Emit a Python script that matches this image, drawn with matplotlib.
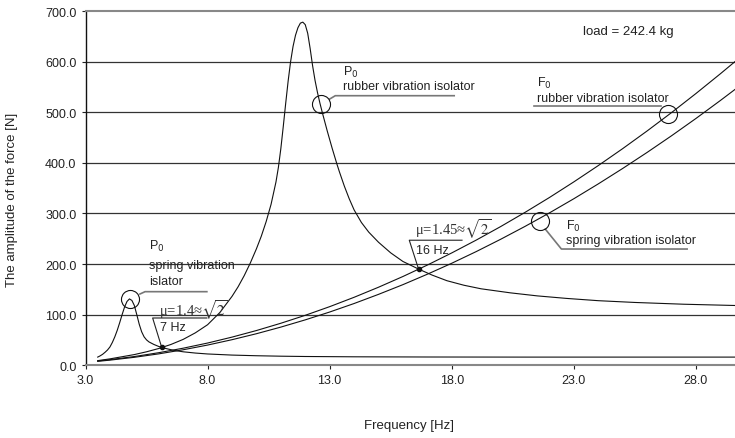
import matplotlib
matplotlib.use("Agg")
import matplotlib.pyplot as plt

plt.rcParams['font.family'] = ['Liberation Sans', 'DejaVu Sans']
plt.rcParams['font.size'] = 9

# F0 curves (excitation force amplitude)
freq_f0 = [3.5, 4, 5, 6, 7, 8, 9, 10, 11, 12, 13, 14, 15, 16, 17, 18, 19, 20,
           21, 22, 23, 24, 25, 26, 27, 28, 29, 29.6]
f0_rubber = [8.4, 11.0, 17.1, 24.7, 33.6, 43.8, 55.5, 68.5, 82.9, 98.6, 115.7,
             134.2, 154.1, 175.3, 197.9, 221.9, 247.2, 273.9, 302.0, 331.4,
             362.3, 394.5, 428.0, 462.9, 499.2, 536.9, 575.9, 600.0]
f0_spring = [7.6, 10.0, 15.6, 22.4, 30.5, 39.8, 50.4, 62.2, 75.3, 89.6, 105.1,
             121.9, 140.0, 159.2, 179.8, 201.5, 224.5, 248.8, 274.3, 301.0,
             329.0, 358.3, 388.8, 420.5, 453.4, 487.6, 523.1, 545.0]

# P0 rubber vibration isolator (transmitted force)
freq_p0_rubber = [3.5, 4, 5, 5.5, 6, 6.5, 7, 7.5, 8, 8.5, 9, 9.25, 9.5, 9.75,
                  10, 10.2, 10.4, 10.6, 10.8, 10.9, 11.0, 11.1, 11.2, 11.3,
                  11.4, 11.5, 11.6, 11.7, 11.8, 11.9, 12.0, 12.1, 12.2, 12.3,
                  12.4, 12.5, 12.6, 12.7, 12.8, 12.9, 13.0, 13.1, 13.2, 13.3,
                  13.4, 13.6, 13.8, 14.0, 14.3, 14.6, 15.0, 15.5, 16.0, 16.64,
                  17.2, 17.8, 18.5, 19.2, 20.4, 21.5, 22.7, 24, 25.5, 27.5, 29.6]
p0_rubber = [9, 12.5, 21, 26.5, 33, 41, 51, 64, 80, 104, 136, 155, 177, 202,
             230, 255, 284, 318, 362, 391, 428, 472, 518, 562,
             600, 630, 652, 667, 676, 678, 673, 656, 626, 592,
             563, 539, 518, 499, 481, 463, 446, 429, 413, 397,
             382, 354, 329, 307, 282, 263, 243, 222, 205, 190,
             178, 167, 158, 151, 143, 137, 132, 127.5, 124, 120.5, 118]

# P0 spring vibration isolator
freq_p0_spring = [3.5, 3.6, 3.7, 3.8, 3.9, 4.0, 4.1, 4.2, 4.3, 4.4, 4.5, 4.6,
                  4.7, 4.8, 4.9, 5.0, 5.1, 5.2, 5.3, 5.4, 5.5, 5.6, 5.8, 6.0,
                  6.2, 6.6, 7, 7.5, 8, 9, 10, 11, 12, 14, 17, 21, 25, 29.6]
p0_spring = [16, 18.5, 21.5, 25.5, 30, 36, 45, 56, 69, 84, 100, 115,
             126, 131, 128, 118, 100, 81, 66, 56, 50, 46, 41, 37,
             34, 29.5, 26.5, 24, 22.2, 20, 18.7, 17.8, 17.2, 16.6, 16.2, 16, 16, 16]

x_ticks = [3.0, 8.0, 13.0, 18.0, 23.0, 28.0]
y_ticks = [0, 100, 200, 300, 400, 500, 600, 700]

fig = plt.figure(figsize=(7.35, 4.39), dpi=100)
ax = fig.add_axes([85.5 / 735, (439 - 366.2) / 439, (735 - 85.5) / 735, (366.2 - 12) / 439])

for y in y_ticks[1:-1]:
    ax.axhline(y, color='#333333', lw=0.9, zorder=1)

ax.plot(freq_f0, f0_rubber, color='#111111', lw=0.8, zorder=3)
ax.plot(freq_f0, f0_spring, color='#111111', lw=0.8, zorder=3)
ax.plot(freq_p0_rubber, p0_rubber, color='#111111', lw=0.8, zorder=3)
ax.plot(freq_p0_spring, p0_spring, color='#111111', lw=0.8, zorder=3)

ax.set_xlim(3.0, 29.6)
ax.set_ylim(0, 700)
ax.set_xticks(x_ticks)
ax.set_xticklabels([f"{v:.1f}" for v in x_ticks])
ax.set_yticks(y_ticks)
ax.set_yticklabels([f"{v:.1f}" for v in y_ticks])
ax.tick_params(direction='out', length=3, width=0.8, color='#222222',
               labelsize=9, labelcolor='#222222', pad=3.5)

ax.spines['right'].set_visible(False)
ax.spines['left'].set_color('#111111')
ax.spines['left'].set_linewidth(1.0)
for s in ['top', 'bottom']:
    ax.spines[s].set_color('#888888')
    ax.spines[s].set_linewidth(1.5)

lead = '#777777'
circ = dict(marker='o', ms=13, mfc='none', mec='#111111', mew=0.8, ls='none', zorder=4)
mu_style = dict(va='center', ha='left', fontsize=10.5, family='Liberation Serif',
                math_fontfamily='stix', color='#333333')

# P0 spring
ax.plot([4.83], [131], **circ)
ax.plot([5.23, 5.44, 7.97], [140.7, 145.3, 145.3], color=lead, lw=1.2)
ax.text(5.6, 236, 'P$_0$', va='center', ha='left', color='#222222')
ax.text(5.6, 199, 'spring vibration', va='center', ha='left', color='#222222')
ax.text(5.6, 166, 'islator', va='center', ha='left', color='#222222')

# mu = 1.4
ax.text(6.02, 111, 'μ=1.4≈$\\sqrt{2}$', **mu_style)
ax.plot([7.97, 5.75, 6.12], [93.3, 93.3, 35.4], color='#222222', lw=0.8)
ax.plot([6.12], [35.4], 'o', ms=3, color='#111111', zorder=5)
ax.text(6.05, 75.5, '7 Hz', va='center', ha='left', color='#222222')

# P0 rubber
ax.plot([12.64], [516], **circ)
ax.plot([13.0, 13.23, 18.1], [526, 532.6, 532.6], color=lead, lw=1.2)
ax.text(13.55, 581, 'P$_0$', va='center', ha='left', color='#222222')
ax.text(13.55, 552, 'rubber vibration isolator', va='center', ha='left', color='#222222')

# mu = 1.45
ax.text(16.5, 271, 'μ=1.45≈$\\sqrt{2}$', **mu_style)
ax.plot([18.42, 16.26, 16.64], [247, 247, 190], color='#222222', lw=0.8)
ax.plot([16.64], [190], 'o', ms=3, color='#111111', zorder=5)
ax.text(16.55, 227.7, '16 Hz', va='center', ha='left', color='#222222')

# F0 rubber
ax.plot([26.84], [496.4], **circ)
ax.plot([21.35, 26.55], [512.8, 512.8], color=lead, lw=1.2)
ax.text(21.5, 559.7, 'F$_0$', va='center', ha='left', color='#222222')
ax.text(21.5, 528, 'rubber vibration isolator', va='center', ha='left', color='#222222')

# F0 spring
ax.plot([21.6], [285.6], **circ)
ax.plot([21.83, 22.49, 27.64], [269, 229.6, 229.6], color=lead, lw=1.2)
ax.text(22.69, 277, 'F$_0$', va='center', ha='left', color='#222222')
ax.text(22.69, 247, 'spring vibration isolator', va='center', ha='left', color='#222222')

ax.text(23.38, 660.5, 'load = 242.4 kg', va='center', ha='left', fontsize=9.5, color='#222222')

fig.text(409 / 735, 1 - 426 / 439, 'Frequency [Hz]', ha='center', va='center',
         fontsize=9.5, color='#222222')
fig.text(12.5 / 735, 1 - 200 / 439, 'The amplitude of the force [N]', ha='center',
         va='center', rotation=90, fontsize=9.5, color='#222222')

fig.savefig('out.png', dpi=100)
